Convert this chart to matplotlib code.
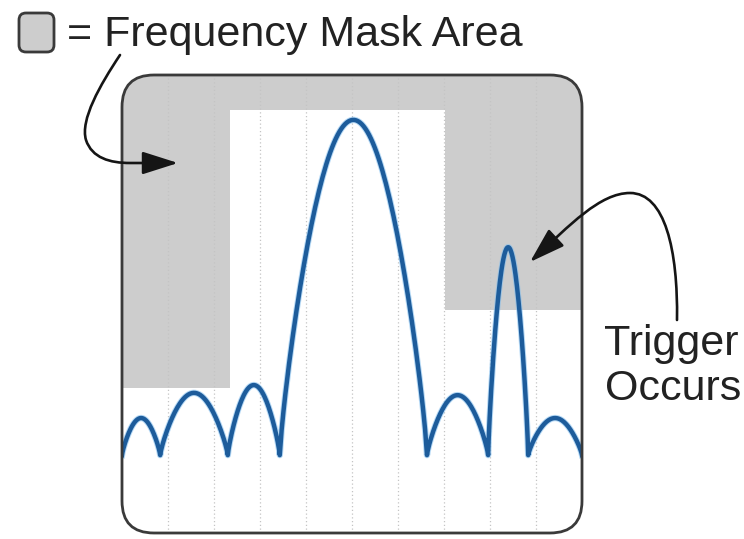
import numpy as np
import matplotlib
matplotlib.use('Agg')
import matplotlib.pyplot as plt
from matplotlib.patches import FancyBboxPatch, FancyArrowPatch
from matplotlib.path import Path

plt.rcParams['font.family'] = ['Liberation Sans', 'DejaVu Sans']

# frequency axis runs 0..100 across the display, level 0..100 bottom to top
mask_edges = [0, 23.5, 70.2, 100]
mask_levels = [31.7, 92.4, 48.7]

# spectrum: nulls between lobes and the height of each lobe
lobe_nulls = [0, 8.3, 23.0, 34.3, 66.3, 79.6, 88.3, 100]
lobe_peaks = [25.1, 30.6, 32.3, 90.2, 30.1, 62.4, 25.1]
noise_floor = 17.0

grid_x = [10, 20, 30, 40, 50, 60, 70, 80, 90]

fig = plt.figure(figsize=(7.44, 5.39), dpi=100)

# overlay in pixel units for the frame, legend swatch, text and arrows
ov = fig.add_axes([0, 0, 1, 1], zorder=2)
ov.set_xlim(0, 744)
ov.set_ylim(539, 0)
ov.axis('off')
ov.patch.set_visible(False)

# display area
ax = fig.add_axes([122 / 744, 1 - 533 / 539, 460 / 744, 458 / 539], zorder=1)
ax.set_xlim(0, 100)
ax.set_ylim(0, 100)
ax.axis('off')
ax.patch.set_visible(False)

clip = FancyBboxPatch((122, 75), 460, 458, boxstyle='round,pad=0,rounding_size=32',
                      transform=ov.transData)

mask = ax.stairs(mask_levels, mask_edges, baseline=100, fill=True,
                 color='#cdcdcd', lw=0)
mask.set_clip_path(clip)

for gx in grid_x:
    ln = ax.axvline(gx, color='#c4c4c4', lw=0.9, ls=(0, (1, 2)))
    ln.set_clip_path(clip)

xs, ys = [], []
for i, pk in enumerate(lobe_peaks):
    t = np.linspace(0, 1, 80)
    x0, x1 = lobe_nulls[i], lobe_nulls[i + 1]
    xs.append(x0 + (x1 - x0) * t)
    ys.append(noise_floor + (pk - noise_floor) * np.sin(np.pi * t) ** 0.8)
xs = np.concatenate(xs)
ys = np.concatenate(ys)

halo, = ax.plot(xs, ys, color='#7cbcef', lw=4.6, alpha=0.55,
                solid_joinstyle='round')
trace, = ax.plot(xs, ys, color='#1d5c9b', lw=3.2, solid_joinstyle='round')
halo.set_clip_path(clip)
trace.set_clip_path(clip)

# frame
ov.add_patch(FancyBboxPatch((122, 75), 460, 458,
                            boxstyle='round,pad=0,rounding_size=32',
                            fc='none', ec='#3a3a3a', lw=2))

# legend swatch and label
ov.add_patch(FancyBboxPatch((19, 13), 35, 39,
                            boxstyle='round,pad=0,rounding_size=7',
                            fc='#cdcdcd', ec='#3a3a3a', lw=2))
ov.text(67, 46, '= Frequency Mask Area', fontsize=31, color='#222222',
        ha='left', va='baseline')

ov.text(604, 355, 'Trigger', fontsize=31, color='#222222', ha='left', va='baseline')
ov.text(605, 400, 'Occurs', fontsize=31, color='#222222', ha='left', va='baseline')

# arrows
left_path = Path([(120, 55), (100, 85), (80, 120), (86, 140),
                  (92, 158), (110, 163), (130, 163), (178, 163)],
                 [Path.MOVETO, Path.CURVE4, Path.CURVE4, Path.CURVE4,
                  Path.CURVE4, Path.CURVE4, Path.CURVE4, Path.LINETO])
right_path = Path([(677, 320), (678, 250), (665, 193), (630, 193),
                   (600, 193), (570, 225), (530, 262)],
                  [Path.MOVETO, Path.CURVE4, Path.CURVE4, Path.CURVE4,
                   Path.CURVE4, Path.CURVE4, Path.CURVE4])
for p in (left_path, right_path):
    ov.add_patch(FancyArrowPatch(path=p, arrowstyle='-|>,head_length=1.1,head_width=0.35',
                                 mutation_scale=20, color='#151515', lw=1.9,
                                 transform=ov.transData))

fig.savefig('out.png', dpi=100, facecolor='white')
